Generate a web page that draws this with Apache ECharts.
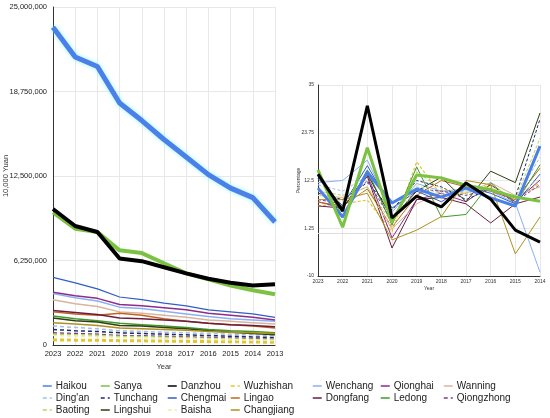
<!DOCTYPE html>
<html>
<head>
<meta charset="utf-8">
<script src="https://cdn.jsdelivr.net/npm/echarts@6/dist/echarts.min.js"></script>
<style>
html,body{margin:0;padding:0;background:#fff;}
#c{width:550px;height:418px;}
</style>
</head>
<body>
<div id="c"></div>
<script>
// ---------- DATA ----------
const yearsIncome = ['2023','2022','2021','2020','2019','2018','2017','2016','2015','2014','2013'];
const yearsGrowth = ['2023','2022','2021','2020','2019','2018','2017','2016','2015','2014'];
const incomeTicks = [0, 6250000, 12500000, 18750000, 25000000];
const growthTicks = [-10, 1.25, 12.5, 23.75, 35];

const cityNames = ['Haikou','Sanya','Danzhou','Wuzhishan','Wenchang','Qionghai','Wanning',
  "Ding'an",'Tunchang','Chengmai','Lingao','Dongfang','Ledong','Qiongzhong',
  'Baoting','Lingshui','Baisha','Changjiang'];

// Income (10,000 Yuan), 2023 -> 2013
const haikou     = [23500000,21300000,20600000,17900000,16600000,15200000,13900000,12600000,11600000,10900000,9100000];
const sanya      = [9800000,8600000,8350000,7000000,6800000,6050000,5300000,4850000,4400000,4050000,3750000];
const danzhou    = [10060000,8800000,8360000,6400000,6200000,5750000,5300000,4900000,4600000,4400000,4500000];
const wuzhishan  = [380000,360000,350000,320000,310000,290000,270000,250000,240000,220000,200000];
const wenchang   = [3800000,3500000,3250000,2800000,2700000,2500000,2300000,2100000,1950000,1850000,1750000];
const qionghai   = [3900000,3650000,3450000,3000000,2900000,2750000,2600000,2350000,2200000,2050000,1850000];
const wanning    = [3350000,3050000,2850000,2450000,2350000,2200000,2050000,1850000,1750000,1650000,1550000];
const dingan     = [1400000,1300000,1200000,1050000,1000000,950000,900000,850000,800000,750000,700000];
const tunchang   = [1150000,1050000,1000000,900000,850000,800000,750000,700000,650000,600000,550000];
const chengmai   = [5000000,4600000,4150000,3550000,3350000,3100000,2900000,2600000,2450000,2300000,2050000];
const lingao     = [2450000,2300000,2200000,2350000,2200000,1950000,1750000,1600000,1500000,1400000,1250000];
const dongfang   = [2550000,2400000,2250000,2000000,1950000,1850000,1750000,1600000,1500000,1450000,1350000];
const ledong     = [2150000,1950000,1800000,1600000,1500000,1400000,1300000,1150000,1050000,1000000,900000];
const qiongzhong = [900000,850000,800000,700000,680000,640000,600000,560000,520000,480000,420000];
const baoting    = [800000,760000,720000,640000,620000,580000,540000,500000,460000,420000,380000];
const lingshui   = [2000000,1800000,1700000,1450000,1400000,1300000,1200000,1050000,950000,850000,750000];
const baisha     = [700000,660000,620000,560000,540000,500000,470000,430000,400000,370000,330000];
const changjiang = [1650000,1550000,1450000,1250000,1200000,1150000,1100000,1000000,950000,900000,850000];

// Growth (percentage), 2023 -> 2014
const haikouG     = [10.7,3.9,14.5,7.2,10.5,8.6,10.7,8.4,6.5,20.6];
const sanyaG      = [15.0,1.5,20.2,2.7,13.8,13.1,11.4,10.3,8.6,7.6];
const danzhouG    = [14.0,5.3,30.1,3.7,8.8,6.3,11.9,8.1,0.8,-2.0];
const wuzhishanG  = [6.5,7.0,7.9,0.4,16.9,9.0,9.5,11.5,8.0,12.0];
const wenchangG   = [12.0,12.5,17.3,5.0,11.8,10.0,10.5,10.0,7.2,-9.1];
const qionghaiG   = [7.5,6.0,14.0,-1.0,8.0,9.5,7.5,11.5,7.5,12.6];
const wanningG    = [9.0,8.5,11.0,1.0,7.0,10.0,9.5,12.0,9.0,11.0];
const dinganG     = [11.5,10.0,13.5,4.0,11.0,9.5,10.0,10.5,8.0,18.0];
const tunchangG   = [9.5,8.0,12.0,5.5,12.5,11.0,8.0,10.5,8.5,27.0];
const chengmaiG   = [13.0,6.5,16.0,6.0,10.0,7.5,11.0,9.5,7.0,14.0];
const lingaoG     = [7.4,6.5,10.5,1.5,9.0,12.5,11.0,10.0,8.0,15.4];
const dongfangG   = [6.5,6.0,13.5,-3.4,8.0,8.5,7.0,2.5,7.0,8.6];
const ledongG     = [14.5,4.0,15.0,2.0,15.7,3.9,4.5,12.0,7.0,16.2];
const qiongzhongG = [8.0,7.0,12.5,3.0,10.5,10.0,9.0,10.5,7.5,11.5];
const baotingG    = [10.0,9.0,11.0,2.5,14.5,10.5,9.5,11.0,8.0,22.5];
const lingshuiG   = [13.5,6.0,14.0,3.5,10.0,13.3,7.5,14.7,12.0,28.4];
const baishaG     = [9.0,7.5,10.0,1.5,11.5,9.0,10.0,11.0,8.5,13.0];
const changjiangG = [8.0,8.0,9.5,-1.5,0.8,4.0,12.5,11.5,-4.8,3.9];

const incomeData = [haikou,sanya,danzhou,wuzhishan,wenchang,qionghai,wanning,dingan,tunchang,
  chengmai,lingao,dongfang,ledong,qiongzhong,baoting,lingshui,baisha,changjiang];
const growthData = [haikouG,sanyaG,danzhouG,wuzhishanG,wenchangG,qionghaiG,wanningG,dinganG,tunchangG,
  chengmaiG,lingaoG,dongfangG,ledongG,qiongzhongG,baotingG,lingshuiG,baishaG,changjiangG];

// ---------- STYLES ----------
const colors = ['#4a80e8','#7cc242','#000000','#e3c530','#8ab0f4','#8e2c8a','#d9b49e',
  '#9fc0ea','#1c2b6b','#2f5fc4','#c0651e','#6b1d3e','#3f9a2a','#7b3b8f',
  '#b5d55a','#2e3d12','#eeeeaa','#b0901e'];
const dashed = [false,false,false,true,false,false,false,true,true,false,false,false,false,true,true,false,true,false];
const widthLeft  = [5,4,4,3,1.5,1.5,1.5,1.5,1.5,1.2,1.5,1.5,1.5,1.5,1.5,1.5,1.5,1.5];
const widthRight = [3,3,3,1.2,1,1,1,1,1,1,1,1,1,1,1,1,1,1];

const series = [];
cityNames.forEach((n,i)=>{
  series.push({
    name:n, type:'line', xAxisIndex:0, yAxisIndex:0, data:incomeData[i],
    symbol:'none', z: i<3 ? 5 : 3,
    lineStyle:{color:colors[i], width:widthLeft[i], type: dashed[i] ? [4,3] : 'solid',
      shadowColor: i===0 ? 'rgba(120,240,255,0.8)' : 'transparent', shadowBlur: i===0 ? 4 : 0},
    itemStyle:{color:colors[i]}
  });
});
cityNames.forEach((n,i)=>{
  const s = {
    name:n, type:'line', xAxisIndex:1, yAxisIndex:1, data:growthData[i],
    symbol:'none', z: i<3 ? 5 : 3,
    lineStyle:{color:colors[i], width:widthRight[i], type: dashed[i] ? [3,2] : 'solid'},
    itemStyle:{color:colors[i]}
  };
  if (i === 3) {
    s.markLine = {silent:true, symbol:'none', label:{show:false},
      lineStyle:{color:'#dcdcdc', width:1, type:'solid'}, data:[{yAxis:0}], z:1};
  }
  series.push(s);
});

// legend grid: column x (icon left), row y (top)
const legendColX = [42, 100, 167, 230, 312, 380, 443];
const legendRowY = [381, 393, 405];
const legendLayout = [
  ['Haikou',"Ding'an",'Baoting'],
  ['Sanya','Tunchang','Lingshui'],
  ['Danzhou','Chengmai','Baisha'],
  ['Wuzhishan','Lingao','Changjiang'],
  ['Wenchang','Dongfang'],
  ['Qionghai','Ledong'],
  ['Wanning','Qiongzhong']
];
const legends = [];
legendLayout.forEach((col,ci)=>{
  col.forEach((name,ri)=>{
    legends.push({
      orient:'horizontal', left:legendColX[ci], top:legendRowY[ri], padding:0,
      data:[name], itemWidth:9, itemHeight:8, itemGap:0,
      lineStyle:{width:1.5},
      itemStyle:{opacity:0},
      textStyle:{fontSize:10, color:'#222', fontFamily:'Liberation Sans', padding:[0,0,0,-1]}
    });
  });
});

const fmt = v => v.toLocaleString('en-US');
const font = 'Liberation Sans';

const option = {
  animation:false,
  backgroundColor:'#fff',
  textStyle:{fontFamily:font},
  legend: legends,
  grid:[
    {left:53, right:275, top:7, bottom:73, containLabel:false, outerBoundsMode:'none'},
    {left:318, right:10, top:85, bottom:142, containLabel:false, outerBoundsMode:'none'}
  ],
  xAxis:[
    {type:'category', gridIndex:0, data:yearsIncome, boundaryGap:false,
     name:'Year', nameLocation:'middle', nameGap:18, nameMoveOverlap:false,
     nameTextStyle:{fontSize:7.5, color:'#333', fontFamily:font},
     axisLine:{lineStyle:{color:'#333', width:1}}, axisTick:{show:false},
     axisLabel:{fontSize:7.5, color:'#222', margin:5, interval:0, fontFamily:font},
     splitLine:{show:true, lineStyle:{color:'#e8e8e8'}}},
    {type:'category', gridIndex:1, data:yearsGrowth, boundaryGap:false,
     name:'Year', nameLocation:'middle', nameGap:10, nameMoveOverlap:false,
     nameTextStyle:{fontSize:5, color:'#333', fontFamily:font},
     axisLine:{onZero:false, lineStyle:{color:'#333', width:1}}, axisTick:{show:false},
     axisLabel:{fontSize:5, color:'#333', margin:3, interval:0, fontFamily:font},
     splitLine:{show:true, lineStyle:{color:'#e8e8e8'}}}
  ],
  yAxis:[
    {type:'value', gridIndex:0, min:incomeTicks[0], max:incomeTicks[incomeTicks.length-1],
     interval:incomeTicks[1]-incomeTicks[0],
     name:'10,000 Yuan', nameLocation:'middle', nameGap:43, nameMoveOverlap:false,
     nameTextStyle:{fontSize:7.5, color:'#333', fontFamily:font},
     axisLine:{show:true, lineStyle:{color:'#333', width:1}}, axisTick:{show:false},
     axisLabel:{fontSize:7.5, color:'#222', margin:6, formatter:fmt, fontFamily:font},
     splitLine:{show:true, lineStyle:{color:'#e8e8e8'}}},
    {type:'value', gridIndex:1, min:growthTicks[0], max:growthTicks[growthTicks.length-1],
     interval:growthTicks[1]-growthTicks[0],
     name:'Percentage', nameLocation:'middle', nameGap:17, nameMoveOverlap:false,
     nameTextStyle:{fontSize:5, color:'#333', fontFamily:font},
     axisLine:{show:true, lineStyle:{color:'#333', width:1}}, axisTick:{show:false},
     axisLabel:{fontSize:5, color:'#333', margin:4, fontFamily:font},
     splitLine:{show:true, lineStyle:{color:'#e8e8e8'}}}
  ],
  series: series
};

const chart = echarts.init(document.getElementById('c'), null, {renderer:'canvas'});
chart.setOption(option);
</script>
</body>
</html>
